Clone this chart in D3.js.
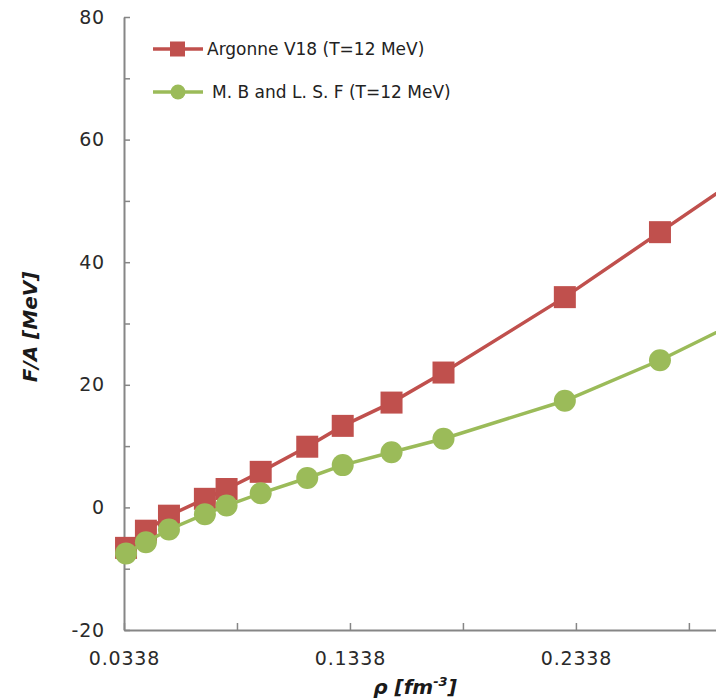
<!DOCTYPE html>
<html>
<head>
<meta charset="utf-8">
<script src="https://cdn.jsdelivr.net/npm/d3@7"></script>
<style>
  body { margin: 0; background: #fff; }
  svg { display: block; }
</style>
</head>
<body>
<script>
// density points (fm^-3) shared by both series
var rho = [0.0347, 0.0435, 0.0537, 0.0696, 0.0792, 0.0943, 0.1149, 0.1306, 0.1522, 0.1752, 0.2289, 0.2710, 0.3100];
var av18 = [-6.6, -3.8, -1.35, 1.4, 3.0, 5.8, 9.9, 13.3, 17.1, 22.0, 34.3, 44.9, 54.7];
var mbf = [-7.5, -5.7, -3.6, -1.1, 0.3, 2.3, 4.8, 6.9, 9.0, 11.2, 17.4, 24.0, 31.1];
var seriesNames = ["Argonne V18 (T=12 MeV)", "M. B and L. S. F (T=12 MeV)"];
var xTicks = [0.0338, 0.0838, 0.1338, 0.1838, 0.2338, 0.2838];
var xLabels = [0.0338, 0.1338, 0.2338];
var yTicks = [-20, -10, 0, 10, 20, 30, 40, 50, 60, 70, 80];
var yLabels = [-20, 0, 20, 40, 60, 80];

var w = 716, h = 700;
var red = "#C0504D", green = "#9BBB59", axisColor = "#868686";

var svg = d3.select("body").append("svg").attr("width", w).attr("height", h);

var x = d3.scaleLinear().domain([0.0338, 0.2958]).range([124, 716]);
var y = d3.scaleLinear().domain([-20, 80]).range([630, 17]);

// y axis, ticks point inward
var yAxis = d3.axisLeft(y)
    .tickValues(yTicks)
    .tickSizeInner(-6)
    .tickSizeOuter(0)
    .tickPadding(19)
    .tickFormat(function (d) { return yLabels.indexOf(d) >= 0 ? d : ""; });

var gy = svg.append("g").attr("transform", "translate(" + x.range()[0] + ",0)").call(yAxis);

var xAxis = d3.axisBottom(x)
    .tickValues(xTicks)
    .tickSizeInner(-7)
    .tickSizeOuter(0)
    .tickPadding(22)
    .tickFormat(function (d) { return xLabels.indexOf(d) >= 0 ? d3.format(".4f")(d) : ""; });

var gx = svg.append("g").attr("transform", "translate(0," + y(-20) + ")").call(xAxis);

[gx, gy].forEach(function (g) {
    g.select(".domain").attr("stroke", axisColor).attr("stroke-width", 2);
    g.selectAll(".tick line").attr("stroke", axisColor).attr("stroke-width", 1.5);
    g.selectAll(".tick text")
        .attr("fill", "#2a2a2a")
        .style("font-family", "DejaVu Sans, sans-serif")
        .style("font-size", "19px")
        .style("letter-spacing", "0.8px");
});

// axis titles
svg.append("text")
    .attr("transform", "translate(37,327) rotate(-90)")
    .attr("text-anchor", "middle")
    .style("font-family", "DejaVu Sans, sans-serif")
    .style("font-size", "20px")
    .style("font-weight", "bold")
    .style("font-style", "italic")
    .attr("fill", "#1a1a1a")
    .text("F/A [MeV]");

var xt = svg.append("text")
    .attr("x", 415)
    .attr("y", 694)
    .attr("text-anchor", "middle")
    .style("font-family", "DejaVu Sans, sans-serif")
    .style("font-size", "20px")
    .style("font-weight", "bold")
    .style("font-style", "italic")
    .attr("fill", "#1a1a1a");
xt.append("tspan").text("\u03C1  [fm");
xt.append("tspan").attr("dy", -8).style("font-size", "13px").text("-3");
xt.append("tspan").attr("dy", 8).text("]");

// series
var line = d3.line()
    .x(function (d) { return x(d[0]); })
    .y(function (d) { return y(d[1]); });

var redData = d3.zip(rho, av18);
var greenData = d3.zip(rho, mbf);

svg.append("path").datum(redData)
    .attr("d", line).attr("fill", "none")
    .attr("stroke", red).attr("stroke-width", 3.5);

svg.selectAll("rect.av18")
    .data(redData)
    .enter()
    .append("rect")
    .attr("class", "av18")
    .attr("x", function (d) { return x(d[0]) - 11; })
    .attr("y", function (d) { return y(d[1]) - 11; })
    .attr("width", 22)
    .attr("height", 22)
    .attr("fill", red);

svg.append("path").datum(greenData)
    .attr("d", line).attr("fill", "none")
    .attr("stroke", green).attr("stroke-width", 3.5);

svg.selectAll("circle.mbf")
    .data(greenData)
    .enter()
    .append("circle")
    .attr("class", "mbf")
    .attr("cx", function (d) { return x(d[0]); })
    .attr("cy", function (d) { return y(d[1]); })
    .attr("r", 11)
    .attr("fill", green);

// legend
var legend = svg.append("g");
var legendRows = [
    {name: seriesNames[0], color: red, shape: "square", y: 49, tx: 207},
    {name: seriesNames[1], color: green, shape: "circle", y: 92, tx: 212}
];
legendRows.forEach(function (r) {
    legend.append("line")
        .attr("x1", 153).attr("x2", 203)
        .attr("y1", r.y).attr("y2", r.y)
        .attr("stroke", r.color).attr("stroke-width", 3.5);
    if (r.shape === "square") {
        legend.append("rect")
            .attr("x", 170).attr("y", r.y - 7.5)
            .attr("width", 15).attr("height", 15)
            .attr("fill", r.color);
    } else {
        legend.append("circle")
            .attr("cx", 178).attr("cy", r.y).attr("r", 7.5)
            .attr("fill", r.color);
    }
    legend.append("text")
        .attr("x", r.tx).attr("y", r.y + 6)
        .style("font-family", "DejaVu Sans, sans-serif")
        .style("font-size", "17px")
        .attr("fill", "#222")
        .text(r.name);
});
</script>
</body>
</html>
